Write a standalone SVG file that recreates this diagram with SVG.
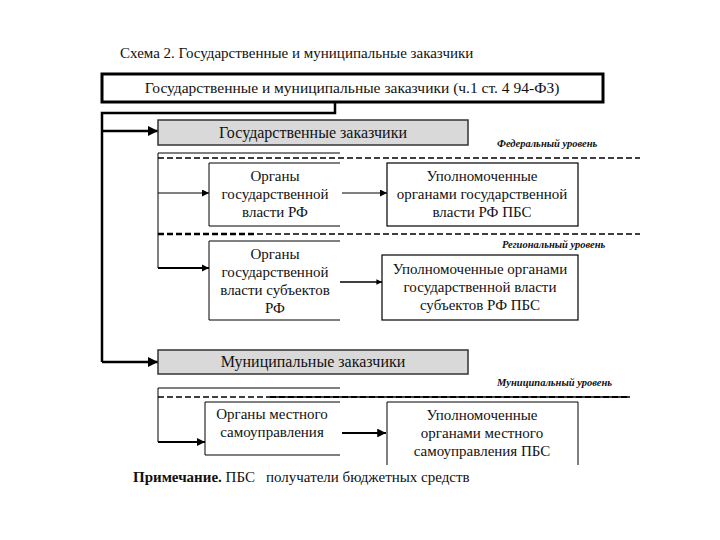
<svg xmlns="http://www.w3.org/2000/svg" width="720" height="540" viewBox="0 0 720 540">
<defs>
<marker id="ah" viewBox="0 0 10 10" refX="10" refY="5" markerWidth="4" markerHeight="4" orient="auto" markerUnits="strokeWidth"><path d="M0,0 L10,5 L0,10 z" fill="#000"/></marker>
<marker id="ahs" viewBox="0 0 10 10" refX="10" refY="5" markerWidth="7" markerHeight="7" orient="auto" markerUnits="strokeWidth"><path d="M0,0 L10,5 L0,10 z" fill="#000"/></marker>
<style>
text{font-family:"Liberation Serif","Times New Roman",serif;fill:#111;}
.t{font-size:15px;text-anchor:middle;}
.lvl{font-size:10.5px;font-style:italic;font-weight:bold;}
.box{fill:#fff;stroke:#000;stroke-width:1.2;}
.gray{fill:#d9d9d9;stroke:#333;stroke-width:1.5;}
.ln{fill:none;stroke:#000;stroke-width:1;}
.thick{fill:none;stroke:#000;stroke-width:2.5;}
.dash{fill:none;stroke:#000;stroke-width:1.6;stroke-dasharray:6 3;}
</style>
</defs>
<rect width="720" height="540" fill="#fff"/>
<text x="120" y="58" style="font-size:15px">Схема 2.  Государственные и муниципальные заказчики</text>

<g id="top">
<rect x="102" y="74" width="501" height="28" fill="#fff" stroke="#000" stroke-width="3"/>
<text class="t" x="352" y="93" style="font-size:15.5px">Государственные и муниципальные заказчики (ч.1 ст. 4 94-ФЗ)</text>
</g>

<g id="connectors">
<polyline class="thick" points="335,103 335,113 102,113 102,362"/>
<line class="thick" x1="102" y1="131" x2="158" y2="131" marker-end="url(#ah)"/>
<line class="thick" x1="102" y1="362" x2="158" y2="362" marker-end="url(#ah)"/>
<polyline class="ln" points="340,153 158,153 158,268"/>
<line class="ln" x1="158" y1="193" x2="209" y2="193" marker-end="url(#ahs)"/>
<line x1="158" y1="268" x2="209" y2="268" stroke="#000" stroke-width="1.8" marker-end="url(#ah)"/>
<line class="ln" x1="342" y1="193" x2="387" y2="193" marker-end="url(#ahs)"/>
<line x1="340" y1="282" x2="382" y2="282" stroke="#000" stroke-width="1.4" marker-end="url(#ah)"/>
<polyline class="ln" points="340,388 158,388 158,442"/>
<line x1="158" y1="442" x2="205" y2="442" stroke="#000" stroke-width="2" marker-end="url(#ah)"/>
<line x1="342" y1="433" x2="386" y2="433" stroke="#000" stroke-width="2.2" marker-end="url(#ah)"/>
<line class="dash" x1="158" y1="158" x2="640" y2="158"/>
<line class="dash" x1="158" y1="234" x2="640" y2="234"/>
<line class="dash" x1="158" y1="234" x2="255" y2="234" style="stroke-width:2.4"/>
<line class="dash" x1="158" y1="397" x2="630" y2="397" style="stroke-width:1.3"/>
<line class="dash" x1="270" y1="397" x2="630" y2="397" style="stroke-width:2"/>
</g>

<g id="gos">
<rect class="gray" x="158" y="120" width="310" height="25"/>
<text class="t" x="313" y="138" style="font-size:16px">Государственные заказчики</text>
</g>
<text class="lvl" x="497" y="147">Федеральный уровень</text>

<g id="fed-organ">
<polyline class="ln" points="340,163 209,163 209,226 340,226"/>
<text class="t" x="275" y="181">Органы</text>
<text class="t" x="275" y="199">государственной</text>
<text class="t" x="275" y="217">власти РФ</text>
</g>
<g id="fed-pbs">
<rect class="box" x="387" y="163" width="191" height="63"/>
<text class="t" x="482" y="181">Уполномоченные</text>
<text class="t" x="482" y="199">органами государственной</text>
<text class="t" x="482" y="217">власти РФ ПБС</text>
</g>

<text class="lvl" x="502" y="248">Региональный уровень</text>
<g id="reg-organ">
<polyline class="ln" points="340,241 209,241 209,320 340,320"/>
<text class="t" x="275" y="259">Органы</text>
<text class="t" x="275" y="277">государственной</text>
<text class="t" x="275" y="295">власти субъектов</text>
<text class="t" x="275" y="313">РФ</text>
</g>
<g id="reg-pbs">
<rect class="box" x="382" y="255" width="196" height="65"/>
<text class="t" x="480" y="274">Уполномоченные органами</text>
<text class="t" x="480" y="292">государственной власти</text>
<text class="t" x="480" y="310">субъектов РФ ПБС</text>
</g>

<g id="mun">
<rect class="gray" x="158" y="350" width="310" height="24"/>
<text class="t" x="313" y="367" style="font-size:16px">Муниципальные заказчики</text>
</g>
<text class="lvl" x="497" y="386">Муниципальный уровень</text>

<g id="mun-organ">
<polyline class="ln" points="340,402 205,402 205,455 340,455"/>
<text class="t" x="272" y="419">Органы местного</text>
<text class="t" x="272" y="437">самоуправления</text>
</g>
<g id="mun-pbs">
<polyline class="ln" points="387,465 387,402 578,402 578,465"/>
<text class="t" x="482" y="420">Уполномоченные</text>
<text class="t" x="482" y="438">органами местного</text>
<text class="t" x="482" y="456">самоуправления ПБС</text>
</g>

<text x="133" y="482" style="font-size:15px"><tspan font-weight="bold">Примечание.</tspan> ПБС</text>
<text x="266" y="482" style="font-size:15px">получатели бюджетных средств</text>
</svg>
